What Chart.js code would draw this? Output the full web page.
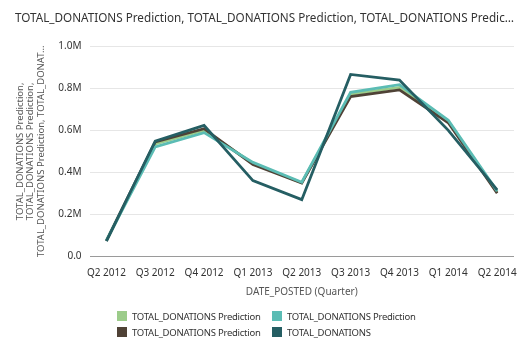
<!DOCTYPE html>
<html>
<head>
<meta charset="utf-8">
<script src="https://cdn.jsdelivr.net/npm/chart.js@4"></script>
<style>
  html, body { margin: 0; padding: 0; background: #fff; }
  #wrap { width: 526px; height: 359px; position: relative; }
  #legend {
    position: absolute; left: 117px; top: 309px;
    display: grid; grid-template-columns: 155px auto; row-gap: 2px;
    font-family: "Noto Sans", sans-serif; font-size: 9.5px; letter-spacing: -0.25px; color: #333;
  }
  #legend .item { display: flex; align-items: center; height: 14px; white-space: nowrap; }
  #legend .box { width: 10px; height: 10px; margin-right: 5px; flex: none; }
</style>
</head>
<body>
<div id="wrap"><canvas id="myChart"></canvas><div id="legend"></div></div>
<script>
const quarters = ['Q2 2012', 'Q3 2012', 'Q4 2012', 'Q1 2013', 'Q2 2013', 'Q3 2013', 'Q4 2013', 'Q1 2014', 'Q2 2014'];
const predGreen = [73000, 535000, 600000, 442000, 350000, 772000, 805000, 642000, 305000];
const predTeal = [75000, 521000, 589000, 447000, 352000, 782000, 818000, 648000, 310000];
const predBrown = [72000, 545000, 608000, 437000, 348000, 761000, 793000, 636000, 300000];
const totalDonations = [71000, 548000, 624000, 360000, 269000, 867000, 840000, 600000, 316000];
const yTicks = [0, 200000, 400000, 600000, 800000, 1000000];

const font = '"Noto Sans", "Open Sans", sans-serif';

function series(values) {
    return values.map((v, i) => ({ x: i, y: v }));
}

const ctx = document.getElementById('myChart');
const myChart = new Chart(ctx, {
    type: 'line',
    data: {
        datasets: [
            { label: 'TOTAL_DONATIONS Prediction', data: series(predGreen), borderColor: '#9ccc8a', backgroundColor: '#9ccc8a', order: 3 },
            { label: 'TOTAL_DONATIONS Prediction', data: series(predTeal), borderColor: '#5bbcb4', backgroundColor: '#5bbcb4', order: 1 },
            { label: 'TOTAL_DONATIONS Prediction', data: series(predBrown), borderColor: '#4f4236', backgroundColor: '#4f4236', order: 2 },
            { label: 'TOTAL_DONATIONS', data: series(totalDonations), borderColor: '#255e63', backgroundColor: '#255e63', order: 0 }
        ]
    },
    options: {
        responsive: true,
        maintainAspectRatio: false,
        animation: false,
        layout: { padding: { left: 15, right: 12, top: 4, bottom: 61 } },
        elements: {
            line: { borderWidth: 2.8, tension: 0 },
            point: { radius: 0 }
        },
        plugins: {
            title: {
                display: true,
                text: 'TOTAL_DONATIONS Prediction, TOTAL_DONATIONS Prediction, TOTAL_DONATIONS Predic…',
                align: 'start',
                color: '#333',
                font: { family: font, size: 13, weight: 'normal' },
                padding: { top: 6, bottom: 21 }
            },
            legend: { display: false },
            tooltip: { enabled: false }
        },
        scales: {
            x: {
                type: 'linear',
                min: -0.345,
                max: 8.345,
                afterBuildTicks: (scale) => {
                    scale.ticks = quarters.map((q, i) => ({ value: i }));
                },
                ticks: {
                    autoSkip: false,
                    maxRotation: 0,
                    color: '#333',
                    font: { family: font, size: 10 },
                    callback: (value) => quarters[value]
                },
                grid: { display: false },
                border: { display: false },
                title: {
                    display: true,
                    text: 'DATE_POSTED (Quarter)',
                    color: '#555',
                    font: { family: font, size: 10 },
                    padding: { top: 4, bottom: 0 }
                }
            },
            y: {
                min: 0,
                max: 1000000,
                afterBuildTicks: (scale) => {
                    scale.ticks = yTicks.map(v => ({ value: v }));
                },
                ticks: {
                    color: '#333',
                    padding: 8,
                    font: { family: font, size: 10 },
                    callback: (value) => value === 0 ? '0.0' : (value / 1000000).toFixed(1) + 'M'
                },
                grid: {
                    drawTicks: false,
                    color: (c) => c.tick && c.tick.value === 0 ? '#9a9a9a' : '#e6e6e6'
                },
                border: { display: false },
                title: {
                    display: true,
                    text: ['TOTAL_DONATIONS Prediction,', 'TOTAL_DONATIONS Prediction,', 'TOTAL_DONATIONS Prediction, TOTAL_DONAT…'],
                    color: '#555',
                    font: { family: font, size: 9.5, lineHeight: 1.1 },
                    padding: { top: 0, bottom: 4 }
                }
            }
        }
    }
});

// legend as a two-column grid, built from the datasets
const legendEl = document.getElementById('legend');
myChart.data.datasets.forEach(ds => {
    const item = document.createElement('div');
    item.className = 'item';
    const box = document.createElement('span');
    box.className = 'box';
    box.style.background = ds.borderColor;
    item.appendChild(box);
    item.appendChild(document.createTextNode(ds.label));
    legendEl.appendChild(item);
});
</script>
</body>
</html>
